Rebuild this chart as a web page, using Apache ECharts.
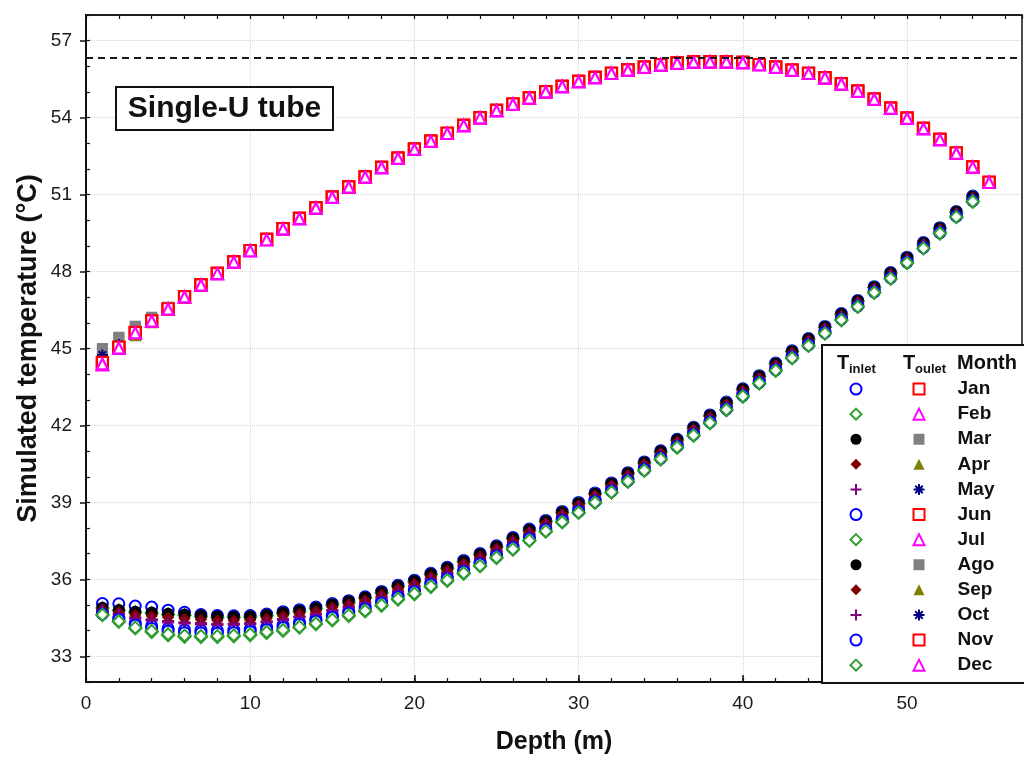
<!DOCTYPE html>
<html>
<head>
<meta charset="utf-8">
<title>Single-U tube temperature profiles</title>
<script src="https://cdn.jsdelivr.net/npm/echarts@6/dist/echarts.min.js"></script>
<style>
  html, body { margin: 0; padding: 0; background: #fff; }
  #chart { width: 1024px; height: 760px; }
</style>
</head>
<body>
<div id="chart"></div>
<script>
// Depth of each simulated node (m)
const depthIn = [1,2,3,4,5,6,7,8,9,10,11,12,13,14,15,16,17,18,19,20,21,22,23,24,25,26,27,28,29,30,31,32,33,34,35,36,37,38,39,40,41,42,43,44,45,46,47,48,49,50,51,52,53,54];
const depthOut = [1,2,3,4,5,6,7,8,9,10,11,12,13,14,15,16,17,18,19,20,21,22,23,24,25,26,27,28,29,30,31,32,33,34,35,36,37,38,39,40,41,42,43,44,45,46,47,48,49,50,51,52,53,54,55];

const months = ['Jan','Feb','Mar','Apr','May','Jun','Jul','Ago','Sep','Oct','Nov','Dec'];

// Inlet (descending leg) temperature per month, °C
const inJan = [34.70,34.49,34.29,34.19,34.08,34.03,34.01,34.00,34.02,34.05,34.13,34.21,34.33,34.45,34.60,34.75,34.92,35.14,35.38,35.58,35.86,36.10,36.37,36.66,36.97,37.30,37.64,37.99,38.35,38.71,39.09,39.49,39.91,40.33,40.77,41.23,41.70,42.18,42.68,43.21,43.72,44.22,44.70,45.18,45.66,46.18,46.69,47.24,47.79,48.40,48.97,49.55,50.18,50.78];
const inFeb = [34.61,34.35,34.09,33.95,33.82,33.76,33.75,33.75,33.78,33.82,33.91,33.99,34.12,34.25,34.40,34.57,34.75,34.97,35.21,35.42,35.70,35.94,36.22,36.51,36.83,37.16,37.50,37.86,38.22,38.59,38.98,39.38,39.80,40.23,40.67,41.13,41.60,42.08,42.59,43.12,43.63,44.13,44.62,45.10,45.58,46.10,46.62,47.17,47.72,48.33,48.90,49.48,50.12,50.72];
const inMar = [34.90,34.83,34.77,34.74,34.70,34.67,34.62,34.58,34.57,34.58,34.64,34.73,34.81,34.91,35.05,35.16,35.31,35.52,35.76,35.96,36.23,36.46,36.73,37.00,37.30,37.62,37.95,38.29,38.64,38.99,39.36,39.75,40.15,40.57,41.00,41.45,41.92,42.40,42.90,43.42,43.93,44.42,44.90,45.38,45.85,46.35,46.86,47.40,47.95,48.55,49.12,49.70,50.33,50.93];
const inApr = [34.85,34.74,34.65,34.60,34.54,34.51,34.46,34.43,34.43,34.44,34.51,34.60,34.69,34.79,34.93,35.05,35.21,35.42,35.66,35.86,36.13,36.37,36.64,36.91,37.22,37.54,37.87,38.21,38.56,38.92,39.29,39.68,40.09,40.51,40.94,41.39,41.86,42.34,42.84,43.37,43.88,44.37,44.85,45.33,45.80,46.30,46.82,47.36,47.91,48.51,49.08,49.66,50.29,50.89];
const inMay = [34.79,34.65,34.51,34.44,34.37,34.32,34.29,34.26,34.27,34.29,34.36,34.45,34.55,34.66,34.80,34.94,35.10,35.31,35.55,35.75,36.03,36.26,36.54,36.81,37.12,37.45,37.78,38.13,38.48,38.84,39.22,39.61,40.02,40.44,40.87,41.33,41.80,42.28,42.78,43.31,43.82,44.31,44.79,45.27,45.75,46.25,46.77,47.31,47.86,48.47,49.04,49.62,50.25,50.85];
const inJun = [35.06,35.05,34.96,34.92,34.80,34.72,34.63,34.59,34.58,34.59,34.65,34.74,34.82,34.92,35.06,35.17,35.32,35.53,35.77,35.97,36.24,36.47,36.74,37.01,37.31,37.63,37.96,38.30,38.65,39.00,39.37,39.76,40.16,40.58,41.01,41.46,41.93,42.41,42.91,43.43,43.94,44.43,44.91,45.39,45.86,46.36,46.87,47.41,47.96,48.56,49.13,49.71,50.34,50.94];
const inJul = [34.88,34.79,34.72,34.68,34.63,34.60,34.55,34.51,34.51,34.52,34.58,34.67,34.75,34.86,35.00,35.11,35.27,35.48,35.72,35.92,36.19,36.42,36.69,36.96,37.26,37.58,37.91,38.26,38.61,38.96,39.33,39.72,40.12,40.54,40.97,41.42,41.89,42.37,42.88,43.40,43.91,44.40,44.88,45.36,45.83,46.33,46.84,47.38,47.93,48.53,49.10,49.68,50.31,50.91];
const inAgo = [34.89,34.81,34.74,34.71,34.66,34.63,34.59,34.55,34.54,34.55,34.61,34.70,34.78,34.88,35.02,35.14,35.29,35.50,35.74,35.94,36.21,36.44,36.71,36.98,37.28,37.60,37.93,38.27,38.62,38.97,39.34,39.74,40.14,40.56,40.99,41.44,41.91,42.39,42.89,43.41,43.92,44.41,44.89,45.37,45.84,46.34,46.85,47.39,47.94,48.54,49.11,49.69,50.32,50.92];
const inSep = [34.84,34.72,34.62,34.57,34.51,34.47,34.43,34.40,34.40,34.41,34.48,34.57,34.66,34.76,34.91,35.03,35.19,35.40,35.64,35.84,36.11,36.35,36.62,36.89,37.20,37.52,37.85,38.20,38.55,38.90,39.28,39.67,40.07,40.50,40.93,41.38,41.85,42.33,42.83,43.35,43.86,44.36,44.84,45.32,45.79,46.29,46.81,47.35,47.90,48.50,49.07,49.65,50.28,50.88];
const inOct = [34.78,34.63,34.48,34.41,34.33,34.29,34.25,34.23,34.24,34.26,34.33,34.42,34.52,34.63,34.78,34.91,35.07,35.29,35.53,35.73,36.01,36.24,36.52,36.79,37.10,37.43,37.76,38.11,38.46,38.82,39.20,39.59,40.00,40.43,40.86,41.32,41.79,42.27,42.77,43.29,43.80,44.30,44.78,45.26,45.74,46.24,46.76,47.30,47.85,48.46,49.03,49.61,50.24,50.84];
const inNov = [34.66,34.44,34.21,34.09,33.98,33.92,33.91,33.90,33.92,33.96,34.04,34.12,34.24,34.37,34.52,34.68,34.85,35.07,35.31,35.52,35.80,36.03,36.31,36.60,36.91,37.24,37.58,37.94,38.30,38.66,39.05,39.45,39.86,40.29,40.73,41.19,41.66,42.14,42.65,43.17,43.68,44.18,44.67,45.15,45.63,46.15,46.66,47.21,47.76,48.37,48.94,49.52,50.16,50.76];
const inDec = [34.62,34.37,34.12,33.99,33.86,33.81,33.79,33.79,33.82,33.86,33.95,34.03,34.15,34.28,34.43,34.60,34.78,35.00,35.24,35.45,35.73,35.97,36.25,36.53,36.85,37.18,37.52,37.88,38.24,38.61,39.00,39.40,39.82,40.25,40.69,41.15,41.62,42.10,42.61,43.14,43.65,44.14,44.63,45.11,45.59,46.11,46.63,47.18,47.73,48.34,48.91,49.49,50.13,50.73];

// Outlet (ascending leg) temperature per month, °C
const outJan = [44.40,45.04,45.62,46.08,46.55,47.02,47.48,47.93,48.38,48.82,49.25,49.67,50.07,50.48,50.90,51.30,51.69,52.06,52.42,52.77,53.08,53.39,53.70,54.00,54.28,54.53,54.77,55.01,55.22,55.41,55.57,55.73,55.86,55.97,56.06,56.13,56.17,56.18,56.18,56.15,56.07,55.97,55.85,55.73,55.56,55.32,55.03,54.72,54.37,53.98,53.58,53.15,52.62,52.08,51.48];
const outFeb = [44.36,45.00,45.59,46.06,46.53,47.00,47.47,47.92,48.37,48.81,49.24,49.66,50.06,50.47,50.89,51.29,51.68,52.05,52.41,52.76,53.07,53.38,53.69,53.99,54.27,54.52,54.76,55.00,55.21,55.40,55.56,55.72,55.85,55.96,56.05,56.12,56.16,56.17,56.17,56.14,56.06,55.96,55.84,55.72,55.55,55.31,55.02,54.71,54.36,53.97,53.57,53.14,52.61,52.07,51.47];
const outMar = [45.00,45.44,45.87,46.22,46.61,47.05,47.50,47.95,48.40,48.84,49.27,49.69,50.09,50.50,50.92,51.32,51.71,52.08,52.44,52.79,53.10,53.41,53.72,54.02,54.30,54.55,54.79,55.03,55.24,55.43,55.59,55.75,55.88,55.99,56.08,56.15,56.19,56.20,56.20,56.17,56.09,55.99,55.87,55.75,55.58,55.34,55.05,54.74,54.39,54.00,53.60,53.17,52.64,52.10,51.50];
const outApr = [44.75,45.09,45.54,46.03,46.53,47.00,47.49,47.94,48.39,48.83,49.26,49.68,50.08,50.49,50.91,51.31,51.70,52.07,52.43,52.78,53.09,53.40,53.71,54.01,54.29,54.54,54.78,55.02,55.23,55.42,55.58,55.74,55.87,55.98,56.07,56.14,56.18,56.19,56.19,56.16,56.08,55.98,55.86,55.74,55.57,55.33,55.04,54.73,54.38,53.99,53.59,53.16,52.63,52.09,51.49];
const outMay = [44.80,45.19,45.67,46.10,46.56,47.02,47.48,47.93,48.38,48.82,49.25,49.67,50.07,50.48,50.90,51.30,51.69,52.06,52.42,52.77,53.08,53.39,53.70,54.00,54.28,54.53,54.77,55.01,55.22,55.41,55.57,55.73,55.86,55.97,56.06,56.13,56.17,56.18,56.18,56.15,56.07,55.97,55.85,55.73,55.56,55.32,55.03,54.72,54.37,53.98,53.58,53.15,52.62,52.08,51.48];
const outJun = [44.43,45.03,45.62,46.08,46.55,47.02,47.48,47.93,48.38,48.82,49.25,49.67,50.07,50.48,50.90,51.30,51.69,52.06,52.42,52.77,53.08,53.39,53.70,54.00,54.28,54.53,54.77,55.01,55.22,55.41,55.57,55.73,55.86,55.97,56.06,56.13,56.17,56.18,56.18,56.15,56.07,55.97,55.85,55.73,55.56,55.32,55.03,54.72,54.37,53.98,53.58,53.15,52.62,52.08,51.48];
const outJul = [44.38,45.01,45.60,46.06,46.54,47.01,47.47,47.92,48.37,48.81,49.24,49.66,50.06,50.47,50.89,51.29,51.68,52.05,52.41,52.76,53.07,53.38,53.69,53.99,54.27,54.52,54.76,55.00,55.21,55.40,55.56,55.72,55.85,55.96,56.05,56.12,56.16,56.17,56.17,56.14,56.06,55.96,55.84,55.72,55.55,55.31,55.02,54.71,54.36,53.97,53.57,53.14,52.61,52.07,51.47];
const outAgo = [44.95,45.40,45.84,46.20,46.60,47.04,47.49,47.94,48.39,48.83,49.26,49.68,50.08,50.49,50.91,51.31,51.70,52.07,52.43,52.78,53.09,53.40,53.71,54.01,54.29,54.54,54.78,55.02,55.23,55.42,55.58,55.74,55.87,55.98,56.07,56.14,56.18,56.19,56.19,56.16,56.08,55.98,55.86,55.74,55.57,55.33,55.04,54.73,54.38,53.99,53.59,53.16,52.63,52.09,51.49];
const outSep = [44.70,45.05,45.52,46.02,46.52,47.00,47.48,47.93,48.38,48.82,49.25,49.67,50.07,50.48,50.90,51.30,51.69,52.06,52.42,52.77,53.08,53.39,53.70,54.00,54.28,54.53,54.77,55.01,55.22,55.41,55.57,55.73,55.86,55.97,56.06,56.13,56.17,56.18,56.18,56.15,56.07,55.97,55.85,55.73,55.56,55.32,55.03,54.72,54.37,53.98,53.58,53.15,52.62,52.08,51.48];
const outOct = [44.75,45.16,45.65,46.09,46.55,47.02,47.49,47.94,48.39,48.83,49.26,49.68,50.08,50.49,50.91,51.31,51.70,52.07,52.43,52.78,53.09,53.40,53.71,54.01,54.29,54.54,54.78,55.02,55.23,55.42,55.58,55.74,55.87,55.98,56.07,56.14,56.18,56.19,56.19,56.16,56.08,55.98,55.86,55.74,55.57,55.33,55.04,54.73,54.38,53.99,53.59,53.16,52.63,52.09,51.49];
const outNov = [44.46,45.05,45.63,46.08,46.55,47.02,47.48,47.93,48.38,48.82,49.25,49.67,50.07,50.48,50.90,51.30,51.69,52.06,52.42,52.77,53.08,53.39,53.70,54.00,54.28,54.53,54.77,55.01,55.22,55.41,55.57,55.73,55.86,55.97,56.06,56.13,56.17,56.18,56.18,56.15,56.07,55.97,55.85,55.73,55.56,55.32,55.03,54.72,54.37,53.98,53.58,53.15,52.62,52.08,51.48];
const outDec = [44.40,45.02,45.61,46.07,46.54,47.01,47.47,47.92,48.37,48.81,49.24,49.66,50.06,50.47,50.89,51.29,51.68,52.05,52.41,52.76,53.07,53.38,53.69,53.99,54.27,54.52,54.76,55.00,55.21,55.40,55.56,55.72,55.85,55.96,56.05,56.12,56.16,56.17,56.17,56.14,56.06,55.96,55.84,55.72,55.55,55.31,55.02,54.71,54.36,53.97,53.57,53.14,52.61,52.07,51.47];

// Horizontal dashed reference temperature, °C
const refTemp = 56.35;

// Axis ticks
const xMajor = [0, 10, 20, 30, 40, 50];
const yMajor = [33, 36, 39, 42, 45, 48, 51, 54, 57];

const inlet = [inJan, inFeb, inMar, inApr, inMay, inJun, inJul, inAgo, inSep, inOct, inNov, inDec];
const outlet = [outJan, outFeb, outMar, outApr, outMay, outJun, outJul, outAgo, outSep, outOct, outNov, outDec];
</script>
<script>
const FONT = '"Liberation Sans", Arial, sans-serif';
const plusPath = 'path://M5,0L5,10M0,5L10,5';
const starPath = 'path://M5,0L5,10M0,5L10,5M1.6,1.6L8.4,8.4M8.4,1.6L1.6,8.4';

// Marker cycle repeats every five months
const inletMarks = [
  { symbol: 'circle',  size: 11, fill: '#ffffff', stroke: '#0000ff', bw: 2 },
  { symbol: 'diamond', size: 12, fill: '#ffffff', stroke: '#2e9e2e', bw: 2 },
  { symbol: 'circle',  size: 12, fill: '#000000', stroke: '#000000', bw: 0 },
  { symbol: 'diamond', size: 12, fill: '#800000', stroke: '#800000', bw: 0 },
  { symbol: plusPath,  size: 12, fill: 'rgba(0,0,0,0)', stroke: '#800080', bw: 2.5 }
];
const outletMarks = [
  { symbol: 'rect',     size: 11, fill: '#ffffff', stroke: '#ff0000', bw: 2.2 },
  { symbol: 'triangle', size: 11, fill: '#ffffff', stroke: '#ff00ff', bw: 2.2 },
  { symbol: 'rect',     size: 11, fill: '#808080', stroke: '#808080', bw: 0 },
  { symbol: 'triangle', size: 12, fill: '#808000', stroke: '#808000', bw: 0 },
  { symbol: starPath,   size: 11, fill: 'rgba(0,0,0,0)', stroke: '#000080', bw: 2 }
];

function scatter(name, xs, ys, mk) {
  return {
    type: 'scatter',
    name: name,
    data: xs.map((d, k) => [d, ys[k]]),
    symbol: mk.symbol,
    symbolSize: mk.size,
    itemStyle: { color: mk.fill, borderColor: mk.stroke, borderWidth: mk.bw, opacity: 1 },
    emphasis: { disabled: true },
    silent: true,
    xAxisIndex: 0,
    yAxisIndex: 0
  };
}

const series = [];
months.forEach((m, i) => series.push(scatter(m + ' Tinlet', depthIn, inlet[i], inletMarks[i % 5])));
months.forEach((m, i) => series.push(scatter(m, depthOut, outlet[i], outletMarks[i % 5])));

series[0].markLine = {
  silent: true,
  symbol: 'none',
  label: { show: false },
  lineStyle: { color: '#1a1a1a', type: [7, 5], width: 2 },
  data: [{ yAxis: refTemp }]
};

const tickLabel = { fontFamily: FONT, fontSize: 19, color: '#1a1a1a' };
const gridLine = { show: true, lineStyle: { color: '#d6d6d6', type: 'dotted', width: 1 } };

const option = {
  animation: false,
  backgroundColor: '#ffffff',
  textStyle: { fontFamily: FONT },
  grid: { left: 86, right: 2, top: 15, bottom: 77, show: true, borderColor: '#111', borderWidth: 1.5, backgroundColor: 'transparent' },
  xAxis: [
    {
      type: 'value', min: 0, max: 57, interval: 2, position: 'bottom',
      axisLine: { show: true, lineStyle: { color: '#111', width: 2 } },
      axisTick: { show: true, inside: true, length: 4, lineStyle: { color: '#111', width: 1.2 } },
      axisLabel: { show: false },
      splitLine: { show: false },
      name: 'Depth (m)', nameLocation: 'middle', nameGap: 48,
      nameTextStyle: { fontFamily: FONT, fontSize: 25, fontWeight: 'bold', color: '#111' }
    },
    {
      type: 'value', min: 0, max: 57, interval: 10, position: 'bottom',
      axisLine: { show: false },
      axisTick: { show: true, inside: true, length: 7, customValues: xMajor, lineStyle: { color: '#111', width: 1.5 } },
      axisLabel: Object.assign({ customValues: xMajor, margin: 12 }, tickLabel),
      splitLine: gridLine
    },
    {
      type: 'value', min: 0, max: 57, interval: 2, position: 'top',
      axisLine: { show: true, lineStyle: { color: '#111', width: 1.5 } },
      axisTick: { show: true, inside: true, length: 4, lineStyle: { color: '#111', width: 1.2 } },
      axisLabel: { show: false },
      splitLine: { show: false }
    }
  ],
  yAxis: [
    {
      type: 'value', min: 32, max: 58, interval: 1, position: 'left',
      axisLine: { show: true, lineStyle: { color: '#111', width: 2 } },
      axisTick: { show: true, inside: true, length: 4, lineStyle: { color: '#111', width: 1.2 } },
      axisLabel: { show: false },
      splitLine: { show: false },
      name: 'Simulated temperature (°C)', nameLocation: 'middle', nameGap: 44,
      nameTextStyle: { fontFamily: FONT, fontSize: 27, fontWeight: 'bold', color: '#111' }
    },
    {
      type: 'value', min: 32, max: 58, interval: 3, position: 'left',
      axisLine: { show: false },
      axisTick: { show: true, inside: false, length: 6, customValues: yMajor, lineStyle: { color: '#111', width: 1.5 } },
      axisLabel: Object.assign({ customValues: yMajor, margin: 14 }, tickLabel),
      splitLine: gridLine
    }
  ],
  legend: [
    {
      data: months.map(m => m + ' Tinlet'),
      orient: 'vertical', left: 849.5, top: 376.5, padding: 0,
      itemWidth: 11, itemHeight: 11, itemGap: 0, selectedMode: false, z: 60,
      formatter: () => ' ',
      textStyle: { fontFamily: FONT, fontSize: 19, lineHeight: 25.1 }
    },
    {
      data: months,
      orient: 'vertical', left: 912.5, top: 376.5, padding: 0,
      itemWidth: 11, itemHeight: 11, itemGap: 0, selectedMode: false, z: 60,
      textStyle: { fontFamily: FONT, fontSize: 19, fontWeight: 'bold', color: '#111', lineHeight: 25.1, padding: [0, 0, 0, 28] }
    }
  ],
  graphic: [
    { type: 'rect', z: 50, shape: { x: 116, y: 87, width: 217, height: 43 }, style: { fill: '#fff', stroke: '#111', lineWidth: 2 } },
    { type: 'text', z: 51, x: 224.5, y: 109, style: { text: 'Single-U tube', font: 'bold 30px ' + FONT, fill: '#111', align: 'center', verticalAlign: 'middle' } },
    { type: 'rect', z: 50, shape: { x: 822, y: 345, width: 210, height: 338 }, style: { fill: '#fff', stroke: '#111', lineWidth: 2 } },
    { type: 'text', z: 51, x: 843, y: 363, style: { text: 'T', font: 'bold 20px ' + FONT, fill: '#111', align: 'center', verticalAlign: 'middle' } },
    { type: 'text', z: 51, x: 849, y: 369, style: { text: 'inlet', font: 'bold 13px ' + FONT, fill: '#111', align: 'left', verticalAlign: 'middle' } },
    { type: 'text', z: 51, x: 909, y: 363, style: { text: 'T', font: 'bold 20px ' + FONT, fill: '#111', align: 'center', verticalAlign: 'middle' } },
    { type: 'text', z: 51, x: 915, y: 369, style: { text: 'oulet', font: 'bold 13px ' + FONT, fill: '#111', align: 'left', verticalAlign: 'middle' } },
    { type: 'text', z: 51, x: 957, y: 363, style: { text: 'Month', font: 'bold 20px ' + FONT, fill: '#111', align: 'left', verticalAlign: 'middle' } }
  ],
  series: series
};

const chart = echarts.init(document.getElementById('chart'), null, { renderer: 'canvas' });
chart.setOption(option);
</script>
</body>
</html>
